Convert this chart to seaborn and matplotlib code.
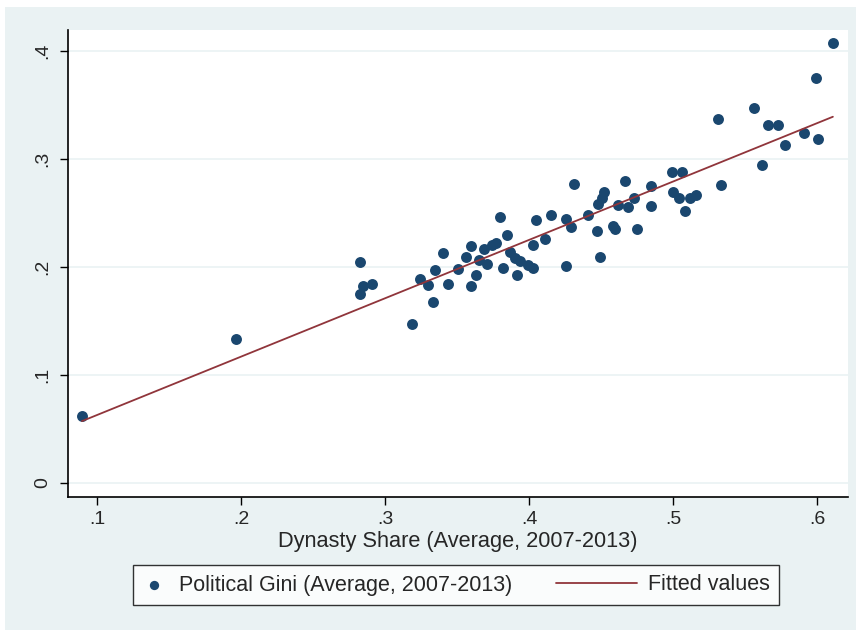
import numpy as np
import pandas as pd
import matplotlib
matplotlib.use("Agg")
import matplotlib.pyplot as plt
import seaborn as sns
from matplotlib.patches import Rectangle
from matplotlib.lines import Line2D
from matplotlib.legend_handler import HandlerPathCollection, HandlerLine2D

# Dynasty share (x) y Political Gini (y)
dynasty_share = [
    0.0896, 0.1965, 0.2826, 0.2847, 0.2910, 0.2826, 0.3190, 0.3240, 0.3300, 0.3350,
    0.3330, 0.3400, 0.3440, 0.3510, 0.3560, 0.3600, 0.3600, 0.3630, 0.3650, 0.3690,
    0.3710, 0.3740, 0.3770, 0.3800, 0.3820, 0.3850, 0.3870, 0.3900, 0.3920, 0.3940,
    0.3990, 0.4030, 0.4030, 0.4050, 0.4110, 0.4150, 0.4260, 0.4260, 0.4290, 0.4310,
    0.4410, 0.4470, 0.4480, 0.4510, 0.4490, 0.4520, 0.4580, 0.4600, 0.4620, 0.4670,
    0.4690, 0.4730, 0.4750, 0.4850, 0.4850, 0.4990, 0.5000, 0.5040, 0.5060, 0.5080,
    0.5120, 0.5160, 0.5310, 0.5330, 0.5560, 0.5620, 0.5660, 0.5730, 0.5780, 0.5910,
    0.5990, 0.6010, 0.6110,
]
political_gini = [
    0.062, 0.133, 0.204, 0.182, 0.184, 0.175, 0.147, 0.189, 0.183, 0.197,
    0.167, 0.213, 0.184, 0.198, 0.209, 0.219, 0.182, 0.192, 0.206, 0.216,
    0.203, 0.220, 0.222, 0.246, 0.199, 0.229, 0.214, 0.208, 0.192, 0.205,
    0.202, 0.220, 0.199, 0.243, 0.226, 0.248, 0.244, 0.201, 0.237, 0.277,
    0.248, 0.233, 0.258, 0.264, 0.209, 0.269, 0.238, 0.235, 0.257, 0.279,
    0.255, 0.264, 0.235, 0.275, 0.256, 0.288, 0.269, 0.264, 0.288, 0.252,
    0.264, 0.266, 0.337, 0.276, 0.347, 0.294, 0.331, 0.331, 0.313, 0.324,
    0.375, 0.318, 0.407,
]

x_ticks = [0.1, 0.2, 0.3, 0.4, 0.5, 0.6]
y_ticks = [0.0, 0.1, 0.2, 0.3, 0.4]
tick_labels_x = [".1", ".2", ".3", ".4", ".5", ".6"]
tick_labels_y = ["0", ".1", ".2", ".3", ".4"]

df = pd.DataFrame({"share": dynasty_share, "gini": political_gini})

sns.set_theme(style="white")
plt.rcParams["font.family"] = ["Liberation Sans", "DejaVu Sans"]

navy = "#1a476f"
maroon = "#90353b"
bg = "#eaf2f3"


# marcador del scatter dentro de su hueco
class MarkerHandler(HandlerPathCollection):
    def get_xdata(self, legend, xdescent, ydescent, width, height, fontsize):
        x = [-xdescent + 0.45 * width]
        return x, x


# línea de la leyenda más larga, se extiende hacia la izquierda
class LongLineHandler(HandlerLine2D):
    def create_artists(self, legend, orig_handle, xdescent, ydescent,
                       width, height, fontsize, trans):
        y = (height - ydescent) / 2
        x1 = -xdescent + width
        x0 = x1 - 58
        line = Line2D([x0, x1], [y, y], color=orig_handle.get_color(),
                      lw=orig_handle.get_linewidth())
        line.set_transform(trans)
        return [line]


fig = plt.figure(figsize=(8.61, 6.3), dpi=100)
fig.patch.set_facecolor("white")
fig.patches.append(Rectangle((5 / 861, 0), 851 / 861, 623 / 630,
                             transform=fig.transFigure, facecolor=bg,
                             edgecolor="none", zorder=-10))

ax = fig.add_axes([68 / 861, 1 - 497 / 630, 780 / 861, 467 / 630])
ax.set_facecolor("white")

for yt in y_ticks:
    ax.axhline(yt, color=bg, lw=1.2, zorder=0)

sns.scatterplot(data=df, x="share", y="gini", color=navy, s=62, linewidth=0,
                label="Political Gini (Average, 2007-2013)", ax=ax, zorder=3)
sns.regplot(data=df, x="share", y="gini", scatter=False, ci=None, truncate=True,
            label="Fitted values",
            line_kws={"color": maroon, "lw": 1.3, "zorder": 4}, ax=ax)

ax.set_xlim(0.0799, 0.6215)
ax.set_ylim(-0.013, 0.419)
ax.set_xticks(x_ticks)
ax.set_xticklabels(tick_labels_x)
ax.set_yticks(y_ticks)
ax.set_yticklabels(tick_labels_y, rotation=90, va="center")
ax.tick_params(axis="both", direction="out", length=6, width=1, color="black",
               labelsize=14, bottom=True, left=True, pad=4)
ax.tick_params(axis="y", pad=6)

for side in ["top", "right"]:
    ax.spines[side].set_visible(False)
for side in ["left", "bottom"]:
    ax.spines[side].set_color("black")
    ax.spines[side].set_linewidth(1.2)

ax.set_xlabel("Dynasty Share (Average, 2007-2013)", fontsize=15.7, labelpad=2)
ax.set_ylabel("")

if ax.get_legend() is not None:
    ax.get_legend().remove()

scat = ax.collections[0]
fit_line = ax.lines[-1]
leg = fig.legend([scat, fit_line],
                 ["Political Gini (Average, 2007-2013)", "Fitted values"],
                 handler_map={scat: MarkerHandler(numpoints=1),
                              fit_line: LongLineHandler()},
                 loc="center", ncol=2,
                 bbox_to_anchor=(456 / 861, 1 - 585 / 630),
                 fontsize=15.5, frameon=True, fancybox=False, edgecolor="black",
                 handlelength=1.2, columnspacing=4.6, handletextpad=0.5,
                 borderpad=0.45, markerscale=0.85)
leg.get_frame().set_linewidth(1.0)

fig.savefig("out.png", dpi=100, facecolor=fig.get_facecolor())
